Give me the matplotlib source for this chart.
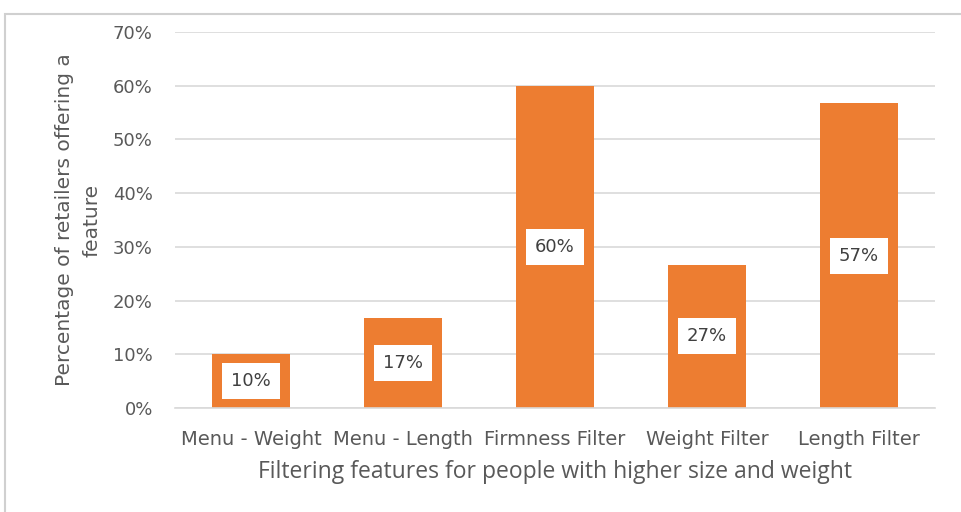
import matplotlib
matplotlib.use("Agg")
import matplotlib.pyplot as plt
from matplotlib.patches import Rectangle

categories = ["Menu - Weight", "Menu - Length", "Firmness Filter", "Weight Filter", "Length Filter"]
values = [10.0, 16.7, 60.0, 26.7, 56.7]
labels = ["10%", "17%", "60%", "27%", "57%"]
yticks = [0, 10, 20, 30, 40, 50, 60, 70]
ytick_labels = ["0%", "10%", "20%", "30%", "40%", "50%", "60%", "70%"]

plt.rcParams['font.family'] = ['DejaVu Sans']
grey = "#595959"
orange = "#ED7D31"

fig = plt.figure(figsize=(9.62, 5.12), dpi=100)
fig.patches.append(Rectangle((5/962, -0.1), 1.2, 1 - 14/512 + 0.1, transform=fig.transFigure,
                             fill=False, edgecolor="#D0D0D0", linewidth=1.5))
ax = fig.add_axes([175/962, 1 - 408/512, 760/962, 376/512])
x = range(len(categories))
bars = ax.bar(x, values, width=0.51, color=orange, zorder=2)
for xi, v, lab in zip(x, values, labels):
    ax.text(xi, v / 2, lab, ha="center", va="center", fontsize=13, color="#404040",
            bbox=dict(boxstyle="square,pad=0.5", facecolor="white", edgecolor="none"), zorder=3)
ax.set_xlim(-0.5, len(categories) - 0.5)
ax.set_ylim(0, 70)
ax.set_yticks(yticks)
ax.set_yticklabels(ytick_labels)
ax.set_xticks(list(x))
ax.set_xticklabels(categories)
ax.tick_params(axis="both", length=0, labelsize=13, colors=grey)
ax.tick_params(axis="x", labelsize=14, pad=16)
ax.tick_params(axis="y", pad=16)
ax.grid(axis="y", color="#D9D9D9", linewidth=1.2, zorder=0)
for s in ["top", "right", "left"]:
    ax.spines[s].set_visible(False)
ax.spines["bottom"].set_color("#D9D9D9")
ax.spines["bottom"].set_linewidth(1.2)
ax.set_ylabel("Percentage of retailers offering a\nfeature", fontsize=14.5, color=grey, labelpad=8,
              linespacing=1.6)
ax.set_xlabel("Filtering features for people with higher size and weight", fontsize=16.5,
              color=grey, labelpad=8, family=["Open Sans", "DejaVu Sans"])
fig.savefig("out.png", dpi=100)
